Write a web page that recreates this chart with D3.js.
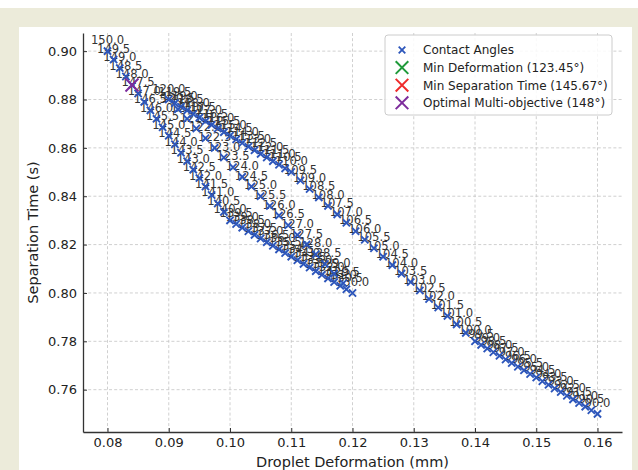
<!DOCTYPE html>
<meta charset="utf-8">
<body style="margin:0">
<script src="https://d3js.org/d3.v7.min.js"></script>
<div id="my_dataviz"></div>
</body>

<script>

// contact angle of every point (deg)
var angles = [
  90.0, 90.5, 91.0, 91.5, 92.0, 92.5, 93.0, 93.5, 94.0, 94.5,
  95.0, 95.5, 96.0, 96.5, 97.0, 97.5, 98.0, 98.5, 99.0, 99.5,
  100.0, 100.5, 101.0, 101.5, 102.0, 102.5, 103.0, 103.5, 104.0, 104.5,
  105.0, 105.5, 106.0, 106.5, 107.0, 107.5, 108.0, 108.5, 109.0, 109.5,
  110.0, 110.5, 111.0, 111.5, 112.0, 112.5, 113.0, 113.5, 114.0, 114.5,
  115.0, 115.5, 116.0, 116.5, 117.0, 117.5, 118.0, 118.5, 119.0, 119.5,
  120.0, 120.5, 121.0, 121.5, 122.0, 122.5, 123.0, 123.5, 124.0, 124.5,
  125.0, 125.5, 126.0, 126.5, 127.0, 127.5, 128.0, 128.5, 129.0, 129.5,
  130.0, 130.5, 131.0, 131.5, 132.0, 132.5, 133.0, 133.5, 134.0, 134.5,
  135.0, 135.5, 136.0, 136.5, 137.0, 137.5, 138.0, 138.5, 139.0, 139.5,
  140.0, 140.5, 141.0, 141.5, 142.0, 142.5, 143.0, 143.5, 144.0, 144.5,
  145.0, 145.5, 146.0, 146.5, 147.0, 147.5, 148.0, 148.5, 149.0, 149.5,
  150.0
]

// droplet deformation (mm), same order as angles
var deformation = [
  0.160, 0.159, 0.158, 0.157, 0.156, 0.155, 0.154, 0.153, 0.152, 0.151,
  0.150, 0.149, 0.148, 0.147, 0.146, 0.145, 0.144, 0.143, 0.142, 0.141,
  0.1400, 0.1385, 0.1370, 0.1355, 0.1340, 0.1325, 0.1310, 0.1295, 0.1280, 0.1265,
  0.1250, 0.1235, 0.1220, 0.1205, 0.1190, 0.1175, 0.1160, 0.1145, 0.1130, 0.1115,
  0.110, 0.109, 0.108, 0.107, 0.106, 0.105, 0.104, 0.103, 0.102, 0.101,
  0.100, 0.099, 0.098, 0.097, 0.096, 0.095, 0.094, 0.093, 0.092, 0.091,
  0.0900, 0.0915, 0.0930, 0.0945, 0.0960, 0.0975, 0.0990, 0.1005, 0.1020, 0.1035,
  0.1050, 0.1065, 0.1080, 0.1095, 0.1110, 0.1125, 0.1140, 0.1155, 0.1170, 0.1185,
  0.120, 0.119, 0.118, 0.117, 0.116, 0.115, 0.114, 0.113, 0.112, 0.111,
  0.110, 0.109, 0.108, 0.107, 0.106, 0.105, 0.104, 0.103, 0.102, 0.101,
  0.100, 0.099, 0.098, 0.097, 0.096, 0.095, 0.094, 0.093, 0.092, 0.091,
  0.090, 0.089, 0.088, 0.087, 0.086, 0.085, 0.084, 0.083, 0.082, 0.081,
  0.080
]

// separation time (s), same order as angles
var sepTime = [
  0.7500, 0.7515, 0.7530, 0.7545, 0.7560, 0.7575, 0.7590, 0.7605, 0.7620, 0.7635,
  0.7650, 0.7665, 0.7680, 0.7695, 0.7710, 0.7725, 0.7740, 0.7755, 0.7770, 0.7785,
  0.7800, 0.7835, 0.7870, 0.7905, 0.7940, 0.7975, 0.8010, 0.8045, 0.8080, 0.8115,
  0.8150, 0.8185, 0.8220, 0.8255, 0.8290, 0.8325, 0.8360, 0.8395, 0.8430, 0.8465,
  0.8500, 0.8515, 0.8530, 0.8545, 0.8560, 0.8575, 0.8590, 0.8605, 0.8620, 0.8635,
  0.8650, 0.8665, 0.8680, 0.8695, 0.8710, 0.8725, 0.8740, 0.8755, 0.8770, 0.8785,
  0.880, 0.876, 0.872, 0.868, 0.864, 0.860, 0.856, 0.852, 0.848, 0.844,
  0.840, 0.836, 0.832, 0.828, 0.824, 0.820, 0.816, 0.812, 0.808, 0.804,
  0.8000, 0.8015, 0.8030, 0.8045, 0.8060, 0.8075, 0.8090, 0.8105, 0.8120, 0.8135,
  0.8150, 0.8165, 0.8180, 0.8195, 0.8210, 0.8225, 0.8240, 0.8255, 0.8270, 0.8285,
  0.8300, 0.8335, 0.8370, 0.8405, 0.8440, 0.8475, 0.8510, 0.8545, 0.8580, 0.8615,
  0.8650, 0.8685, 0.8720, 0.8755, 0.8790, 0.8825, 0.8860, 0.8895, 0.8930, 0.8965,
  0.9000
]

// optimal multi-objective point
var optAngle = [148]
var optDeformation = [0.084]
var optTime = [0.886]

var xTicks = [0.08, 0.09, 0.10, 0.11, 0.12, 0.13, 0.14, 0.15, 0.16]
var yTicks = [0.76, 0.78, 0.80, 0.82, 0.84, 0.86, 0.88, 0.90]

var legendLabels = ["Contact Angles", "Min Deformation (123.45°)", "Min Separation Time (145.67°)", "Optimal Multi-objective (148°)"]
var legendColors = ["#2d56bb", "#1f9a3a", "#ef2b2b", "#7d2c9c"]

var blue = "#2d56bb"

// page frame
var svgRoot = d3.select("#my_dataviz")
  .append("svg")
    .attr("width", 638)
    .attr("height", 470)
    .style("display", "block")
    .style("font-family", "DejaVu Sans, sans-serif")

svgRoot.append("rect").attr("x", 0).attr("y", 0).attr("width", 638).attr("height", 470).attr("fill", "#fff")
svgRoot.append("rect").attr("x", 0).attr("y", 8).attr("width", 638).attr("height", 462).attr("fill", "#ecebda")
svgRoot.append("rect").attr("x", 19).attr("y", 27).attr("width", 613).attr("height", 443).attr("fill", "#fff")

// Graph dimension
var margin = {top: 33, left: 83},
    width = 622 - 83,
    height = 432 - 33

var svg = svgRoot.append("g")
  .attr("transform", "translate(" + margin.left + "," + margin.top + ")")

var x = d3.scaleLinear()
  .domain([0.076, 0.164])
  .range([0, width])

var y = d3.scaleLinear()
  .domain([0.7425, 0.9075])
  .range([height, 0])

// dashed grid
svg.append("g")
  .selectAll("line")
  .data(xTicks)
  .join("line")
    .attr("x1", function(d) { return x(d) })
    .attr("x2", function(d) { return x(d) })
    .attr("y1", 0)
    .attr("y2", height)
svg.append("g")
  .selectAll("line")
  .data(yTicks)
  .join("line")
    .attr("x1", 0)
    .attr("x2", width)
    .attr("y1", function(d) { return y(d) })
    .attr("y2", function(d) { return y(d) })
svg.selectAll("g line")
  .attr("stroke", "#c4c4c4")
  .attr("stroke-width", 0.8)
  .attr("stroke-dasharray", "3,2.2")

// axes, ticks pointing inwards
var xAxis = svg.append("g")
  .attr("transform", "translate(0," + height + ")")
  .call(d3.axisBottom(x).tickValues(xTicks).tickFormat(d3.format(".2f")).tickSizeInner(-4).tickSizeOuter(0).tickPadding(6))
var yAxis = svg.append("g")
  .call(d3.axisLeft(y).tickValues(yTicks).tickFormat(d3.format(".2f")).tickSizeInner(-4).tickSizeOuter(0).tickPadding(6))

;[xAxis, yAxis].forEach(function(a) {
  a.select(".domain").attr("stroke", "#333").attr("stroke-width", 1.3)
  a.selectAll(".tick line").attr("stroke", "#333").attr("stroke-width", 1)
  a.selectAll(".tick text")
    .style("font-size", "13px")
    .style("font-family", "DejaVu Sans, sans-serif")
    .attr("fill", "#222")
})

// axis titles
svgRoot.append("text")
  .attr("x", margin.left + width / 2)
  .attr("y", 467)
  .attr("text-anchor", "middle")
  .style("font-size", "14.5px")
  .attr("fill", "#222")
  .text("Droplet Deformation (mm)")

svgRoot.append("text")
  .attr("transform", "translate(38," + (margin.top + height / 2) + ") rotate(-90)")
  .attr("text-anchor", "middle")
  .style("font-size", "14.5px")
  .attr("fill", "#222")
  .text("Separation Time (s)")

var points = angles.map(function(a, i) {
  return {angle: a, def: deformation[i], time: sepTime[i]}
})

// angle labels above each point
svg.append("g")
  .selectAll("text")
  .data(points)
  .join("text")
    .attr("x", function(d) { return x(d.def) })
    .attr("y", function(d) { return y(d.time) - 7 })
    .attr("text-anchor", "middle")
    .style("font-size", "11.6px")
    .attr("fill", "#333")
    .text(function(d) { return d.angle.toFixed(1) })

function cross(s) {
  return "M" + (-s) + "," + (-s) + "L" + s + "," + s + "M" + (-s) + "," + s + "L" + s + "," + (-s)
}

// contact angle markers
svg.append("g")
  .selectAll("path")
  .data(points)
  .join("path")
    .attr("transform", function(d) { return "translate(" + x(d.def) + "," + y(d.time) + ")" })
    .attr("d", cross(3.6))
    .attr("fill", "none")
    .attr("stroke", blue)
    .attr("stroke-width", 1.9)

// optimal point
svg.append("g")
  .selectAll("path")
  .data(optAngle)
  .join("path")
    .attr("transform", function(d, i) { return "translate(" + x(optDeformation[i]) + "," + y(optTime[i]) + ")" })
    .attr("d", cross(6.5))
    .attr("fill", "none")
    .attr("stroke", legendColors[3])
    .attr("stroke-width", 2)

// legend
var legend = svgRoot.append("g")
  .attr("transform", "translate(385,35)")

legend.append("rect")
  .attr("width", 227)
  .attr("height", 80)
  .attr("rx", 3)
  .attr("fill", "#fff")
  .attr("fill-opacity", 0.85)
  .attr("stroke", "#cccccc")
  .attr("stroke-width", 1)

var rows = legend.selectAll(".row")
  .data(legendLabels)
  .join("g")
    .attr("class", "row")
    .attr("transform", function(d, i) { return "translate(17," + (15 + i * 17.6) + ")" })

rows.append("path")
  .attr("d", function(d, i) { return i === 0 ? cross(3.3) : cross(6.3) })
  .attr("fill", "none")
  .attr("stroke", function(d, i) { return legendColors[i] })
  .attr("stroke-width", function(d, i) { return i === 0 ? 1.8 : 2 })

rows.append("text")
  .attr("x", 21)
  .attr("dy", "0.36em")
  .style("font-size", "12px")
  .attr("fill", "#222")
  .text(function(d) { return d })

</script>
